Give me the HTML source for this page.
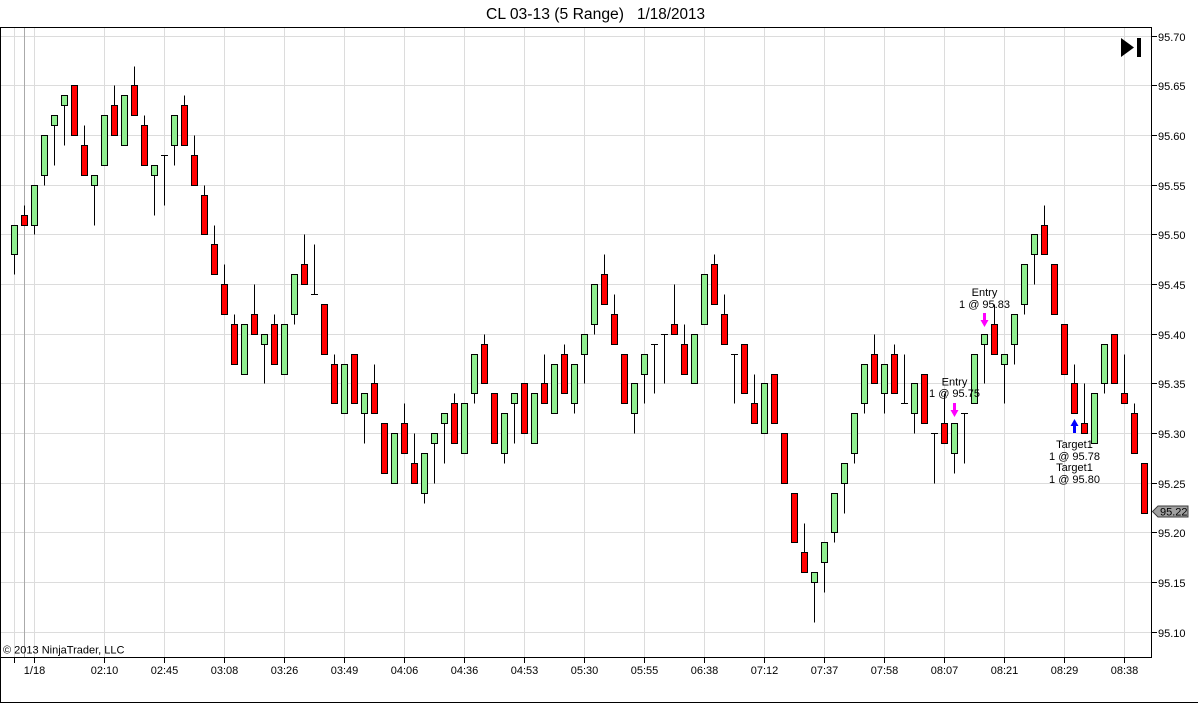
<!DOCTYPE html>
<html><head><meta charset="utf-8"><style>
html,body{margin:0;padding:0;background:#fff;width:1198px;height:703px;overflow:hidden}
svg{display:block}
text{font-family:"Liberation Sans",Arial,sans-serif;fill:#000}
.gl{stroke:#dcdcdc;stroke-width:1}
.ax{stroke:#000;stroke-width:1}
.w{stroke:#000;stroke-width:1}
.g{fill:#90ee90;stroke:#000;stroke-width:1}
.r{fill:#ff0000;stroke:#000;stroke-width:1}
.pl{font-size:11px}
.xl{font-size:11px;text-anchor:middle}
.an{font-size:11px;text-anchor:middle}
</style></head><body>
<svg width="1198" height="703" viewBox="0 0 1198 703" xmlns="http://www.w3.org/2000/svg">
<rect x="0" y="0" width="1198" height="703" fill="#fff"/>
<!-- title -->
<text x="486" y="19" font-size="15.5" textLength="138" lengthAdjust="spacingAndGlyphs">CL 03-13 (5 Range)</text>
<text x="637" y="19" font-size="15.5" textLength="68" lengthAdjust="spacingAndGlyphs">1/18/2013</text>
<!-- horizontal grid -->
<g class="gl">
<line x1="1" x2="1151" y1="36.5" y2="36.5"/>
<line x1="1" x2="1151" y1="85.5" y2="85.5"/>
<line x1="1" x2="1151" y1="135.5" y2="135.5"/>
<line x1="1" x2="1151" y1="185.5" y2="185.5"/>
<line x1="1" x2="1151" y1="234.5" y2="234.5"/>
<line x1="1" x2="1151" y1="284.5" y2="284.5"/>
<line x1="1" x2="1151" y1="334.5" y2="334.5"/>
<line x1="1" x2="1151" y1="383.5" y2="383.5"/>
<line x1="1" x2="1151" y1="433.5" y2="433.5"/>
<line x1="1" x2="1151" y1="483.5" y2="483.5"/>
<line x1="1" x2="1151" y1="532.5" y2="532.5"/>
<line x1="1" x2="1151" y1="582.5" y2="582.5"/>
<line x1="1" x2="1151" y1="632.5" y2="632.5"/>
<!-- vertical grid -->
<line x1="14.5" x2="14.5" y1="28" y2="657"/>
<line x1="34.5" x2="34.5" y1="28" y2="657"/>
<line x1="104.5" x2="104.5" y1="28" y2="657"/>
<line x1="164.5" x2="164.5" y1="28" y2="657"/>
<line x1="224.5" x2="224.5" y1="28" y2="657"/>
<line x1="284.5" x2="284.5" y1="28" y2="657"/>
<line x1="344.5" x2="344.5" y1="28" y2="657"/>
<line x1="404.5" x2="404.5" y1="28" y2="657"/>
<line x1="464.5" x2="464.5" y1="28" y2="657"/>
<line x1="524.5" x2="524.5" y1="28" y2="657"/>
<line x1="584.5" x2="584.5" y1="28" y2="657"/>
<line x1="644.5" x2="644.5" y1="28" y2="657"/>
<line x1="704.5" x2="704.5" y1="28" y2="657"/>
<line x1="764.5" x2="764.5" y1="28" y2="657"/>
<line x1="824.5" x2="824.5" y1="28" y2="657"/>
<line x1="884.5" x2="884.5" y1="28" y2="657"/>
<line x1="944.5" x2="944.5" y1="28" y2="657"/>
<line x1="1004.5" x2="1004.5" y1="28" y2="657"/>
<line x1="1064.5" x2="1064.5" y1="28" y2="657"/>
<line x1="1124.5" x2="1124.5" y1="28" y2="657"/>
</g>
<line x1="24.5" x2="24.5" y1="28" y2="657" stroke="#aaaaaa" stroke-width="1"/>

<!-- candles -->
<g>
<line class="w" x1="14.5" x2="14.5" y1="225.5" y2="274.5"/><rect class="g" x="11.5" y="225.5" width="6" height="29"/>
<line class="w" x1="24.5" x2="24.5" y1="205.5" y2="225.5"/><rect class="r" x="21.5" y="215.5" width="6" height="10"/>
<line class="w" x1="34.5" x2="34.5" y1="185.5" y2="234.5"/><rect class="g" x="31.5" y="185.5" width="6" height="40"/>
<line class="w" x1="44.5" x2="44.5" y1="135.5" y2="185.5"/><rect class="g" x="41.5" y="135.5" width="6" height="40"/>
<line class="w" x1="54.5" x2="54.5" y1="115.5" y2="165.5"/><rect class="g" x="51.5" y="115.5" width="6" height="10"/>
<line class="w" x1="64.5" x2="64.5" y1="95.5" y2="145.5"/><rect class="g" x="61.5" y="95.5" width="6" height="10"/>
<rect class="r" x="71.5" y="85.5" width="6" height="50"/>
<line class="w" x1="84.5" x2="84.5" y1="125.5" y2="175.5"/><rect class="r" x="81.5" y="145.5" width="6" height="30"/>
<line class="w" x1="94.5" x2="94.5" y1="175.5" y2="225.5"/><rect class="g" x="91.5" y="175.5" width="6" height="10"/>
<rect class="g" x="101.5" y="115.5" width="6" height="50"/>
<line class="w" x1="114.5" x2="114.5" y1="85.5" y2="135.5"/><rect class="r" x="111.5" y="105.5" width="6" height="30"/>
<rect class="g" x="121.5" y="95.5" width="6" height="50"/>
<line class="w" x1="134.5" x2="134.5" y1="66.5" y2="115.5"/><rect class="r" x="131.5" y="85.5" width="6" height="30"/>
<line class="w" x1="144.5" x2="144.5" y1="115.5" y2="165.5"/><rect class="r" x="141.5" y="125.5" width="6" height="40"/>
<line class="w" x1="154.5" x2="154.5" y1="165.5" y2="215.5"/><rect class="g" x="151.5" y="165.5" width="6" height="10"/>
<line class="w" x1="164.5" x2="164.5" y1="155.5" y2="205.5"/><line class="w" x1="161" x2="168" y1="155.5" y2="155.5"/>
<line class="w" x1="174.5" x2="174.5" y1="115.5" y2="165.5"/><rect class="g" x="171.5" y="115.5" width="6" height="30"/>
<line class="w" x1="184.5" x2="184.5" y1="95.5" y2="145.5"/><rect class="r" x="181.5" y="105.5" width="6" height="40"/>
<line class="w" x1="194.5" x2="194.5" y1="135.5" y2="185.5"/><rect class="r" x="191.5" y="155.5" width="6" height="30"/>
<line class="w" x1="204.5" x2="204.5" y1="185.5" y2="234.5"/><rect class="r" x="201.5" y="195.5" width="6" height="39"/>
<line class="w" x1="214.5" x2="214.5" y1="225.5" y2="274.5"/><rect class="r" x="211.5" y="244.5" width="6" height="30"/>
<line class="w" x1="224.5" x2="224.5" y1="264.5" y2="314.5"/><rect class="r" x="221.5" y="284.5" width="6" height="30"/>
<line class="w" x1="234.5" x2="234.5" y1="314.5" y2="364.5"/><rect class="r" x="231.5" y="324.5" width="6" height="40"/>
<rect class="g" x="241.5" y="324.5" width="6" height="50"/>
<line class="w" x1="254.5" x2="254.5" y1="284.5" y2="334.5"/><rect class="r" x="251.5" y="314.5" width="6" height="20"/>
<line class="w" x1="264.5" x2="264.5" y1="334.5" y2="383.5"/><rect class="g" x="261.5" y="334.5" width="6" height="10"/>
<line class="w" x1="274.5" x2="274.5" y1="314.5" y2="364.5"/><rect class="r" x="271.5" y="324.5" width="6" height="40"/>
<rect class="g" x="281.5" y="324.5" width="6" height="50"/>
<line class="w" x1="294.5" x2="294.5" y1="274.5" y2="324.5"/><rect class="g" x="291.5" y="274.5" width="6" height="40"/>
<line class="w" x1="304.5" x2="304.5" y1="234.5" y2="284.5"/><rect class="r" x="301.5" y="264.5" width="6" height="20"/>
<line class="w" x1="314.5" x2="314.5" y1="244.5" y2="294.5"/><line class="w" x1="311" x2="318" y1="294.5" y2="294.5"/>
<rect class="r" x="321.5" y="304.5" width="6" height="50"/>
<line class="w" x1="334.5" x2="334.5" y1="354.5" y2="403.5"/><rect class="r" x="331.5" y="364.5" width="6" height="39"/>
<rect class="g" x="341.5" y="364.5" width="6" height="49"/>
<rect class="r" x="351.5" y="354.5" width="6" height="49"/>
<line class="w" x1="364.5" x2="364.5" y1="393.5" y2="443.5"/><rect class="g" x="361.5" y="393.5" width="6" height="20"/>
<line class="w" x1="374.5" x2="374.5" y1="364.5" y2="413.5"/><rect class="r" x="371.5" y="383.5" width="6" height="30"/>
<rect class="r" x="381.5" y="423.5" width="6" height="50"/>
<rect class="g" x="391.5" y="433.5" width="6" height="50"/>
<line class="w" x1="404.5" x2="404.5" y1="403.5" y2="453.5"/><rect class="r" x="401.5" y="423.5" width="6" height="30"/>
<line class="w" x1="414.5" x2="414.5" y1="433.5" y2="483.5"/><rect class="r" x="411.5" y="463.5" width="6" height="20"/>
<line class="w" x1="424.5" x2="424.5" y1="453.5" y2="503.5"/><rect class="g" x="421.5" y="453.5" width="6" height="40"/>
<line class="w" x1="434.5" x2="434.5" y1="433.5" y2="483.5"/><rect class="g" x="431.5" y="433.5" width="6" height="10"/>
<line class="w" x1="444.5" x2="444.5" y1="413.5" y2="463.5"/><rect class="g" x="441.5" y="413.5" width="6" height="10"/>
<line class="w" x1="454.5" x2="454.5" y1="393.5" y2="443.5"/><rect class="r" x="451.5" y="403.5" width="6" height="40"/>
<rect class="g" x="461.5" y="403.5" width="6" height="50"/>
<line class="w" x1="474.5" x2="474.5" y1="354.5" y2="403.5"/><rect class="g" x="471.5" y="354.5" width="6" height="39"/>
<line class="w" x1="484.5" x2="484.5" y1="334.5" y2="383.5"/><rect class="r" x="481.5" y="344.5" width="6" height="39"/>
<rect class="r" x="491.5" y="393.5" width="6" height="50"/>
<line class="w" x1="504.5" x2="504.5" y1="413.5" y2="463.5"/><rect class="g" x="501.5" y="413.5" width="6" height="40"/>
<line class="w" x1="514.5" x2="514.5" y1="393.5" y2="443.5"/><rect class="g" x="511.5" y="393.5" width="6" height="10"/>
<rect class="r" x="521.5" y="383.5" width="6" height="50"/>
<rect class="g" x="531.5" y="393.5" width="6" height="50"/>
<line class="w" x1="544.5" x2="544.5" y1="354.5" y2="403.5"/><rect class="r" x="541.5" y="383.5" width="6" height="20"/>
<rect class="g" x="551.5" y="364.5" width="6" height="49"/>
<line class="w" x1="564.5" x2="564.5" y1="344.5" y2="393.5"/><rect class="r" x="561.5" y="354.5" width="6" height="39"/>
<line class="w" x1="574.5" x2="574.5" y1="364.5" y2="413.5"/><rect class="g" x="571.5" y="364.5" width="6" height="39"/>
<line class="w" x1="584.5" x2="584.5" y1="334.5" y2="383.5"/><rect class="g" x="581.5" y="334.5" width="6" height="20"/>
<line class="w" x1="594.5" x2="594.5" y1="284.5" y2="334.5"/><rect class="g" x="591.5" y="284.5" width="6" height="40"/>
<line class="w" x1="604.5" x2="604.5" y1="254.5" y2="304.5"/><rect class="r" x="601.5" y="274.5" width="6" height="30"/>
<line class="w" x1="614.5" x2="614.5" y1="294.5" y2="344.5"/><rect class="r" x="611.5" y="314.5" width="6" height="30"/>
<rect class="r" x="621.5" y="354.5" width="6" height="49"/>
<line class="w" x1="634.5" x2="634.5" y1="383.5" y2="433.5"/><rect class="g" x="631.5" y="383.5" width="6" height="30"/>
<line class="w" x1="644.5" x2="644.5" y1="354.5" y2="403.5"/><rect class="g" x="641.5" y="354.5" width="6" height="20"/>
<line class="w" x1="654.5" x2="654.5" y1="344.5" y2="393.5"/><line class="w" x1="651" x2="658" y1="344.5" y2="344.5"/>
<line class="w" x1="664.5" x2="664.5" y1="334.5" y2="383.5"/><line class="w" x1="661" x2="668" y1="334.5" y2="334.5"/>
<line class="w" x1="674.5" x2="674.5" y1="284.5" y2="334.5"/><rect class="r" x="671.5" y="324.5" width="6" height="10"/>
<line class="w" x1="684.5" x2="684.5" y1="324.5" y2="374.5"/><rect class="r" x="681.5" y="344.5" width="6" height="30"/>
<rect class="g" x="691.5" y="334.5" width="6" height="49"/>
<rect class="g" x="701.5" y="274.5" width="6" height="50"/>
<line class="w" x1="714.5" x2="714.5" y1="254.5" y2="304.5"/><rect class="r" x="711.5" y="264.5" width="6" height="40"/>
<line class="w" x1="724.5" x2="724.5" y1="294.5" y2="344.5"/><rect class="r" x="721.5" y="314.5" width="6" height="30"/>
<line class="w" x1="734.5" x2="734.5" y1="354.5" y2="403.5"/><line class="w" x1="731" x2="738" y1="354.5" y2="354.5"/>
<rect class="r" x="741.5" y="344.5" width="6" height="49"/>
<line class="w" x1="754.5" x2="754.5" y1="374.5" y2="423.5"/><rect class="r" x="751.5" y="403.5" width="6" height="20"/>
<rect class="g" x="761.5" y="383.5" width="6" height="50"/>
<rect class="r" x="771.5" y="374.5" width="6" height="49"/>
<rect class="r" x="781.5" y="433.5" width="6" height="50"/>
<rect class="r" x="791.5" y="493.5" width="6" height="49"/>
<line class="w" x1="804.5" x2="804.5" y1="523.5" y2="572.5"/><rect class="r" x="801.5" y="552.5" width="6" height="20"/>
<line class="w" x1="814.5" x2="814.5" y1="572.5" y2="622.5"/><rect class="g" x="811.5" y="572.5" width="6" height="10"/>
<line class="w" x1="824.5" x2="824.5" y1="542.5" y2="592.5"/><rect class="g" x="821.5" y="542.5" width="6" height="20"/>
<line class="w" x1="834.5" x2="834.5" y1="493.5" y2="542.5"/><rect class="g" x="831.5" y="493.5" width="6" height="39"/>
<line class="w" x1="844.5" x2="844.5" y1="463.5" y2="513.5"/><rect class="g" x="841.5" y="463.5" width="6" height="20"/>
<line class="w" x1="854.5" x2="854.5" y1="413.5" y2="463.5"/><rect class="g" x="851.5" y="413.5" width="6" height="40"/>
<line class="w" x1="864.5" x2="864.5" y1="364.5" y2="413.5"/><rect class="g" x="861.5" y="364.5" width="6" height="39"/>
<line class="w" x1="874.5" x2="874.5" y1="334.5" y2="383.5"/><rect class="r" x="871.5" y="354.5" width="6" height="29"/>
<line class="w" x1="884.5" x2="884.5" y1="364.5" y2="413.5"/><rect class="g" x="881.5" y="364.5" width="6" height="29"/>
<line class="w" x1="894.5" x2="894.5" y1="344.5" y2="393.5"/><rect class="r" x="891.5" y="354.5" width="6" height="39"/>
<line class="w" x1="904.5" x2="904.5" y1="354.5" y2="403.5"/><line class="w" x1="901" x2="908" y1="403.5" y2="403.5"/>
<line class="w" x1="914.5" x2="914.5" y1="383.5" y2="433.5"/><rect class="g" x="911.5" y="383.5" width="6" height="30"/>
<rect class="r" x="921.5" y="374.5" width="6" height="49"/>
<line class="w" x1="934.5" x2="934.5" y1="433.5" y2="483.5"/><line class="w" x1="931" x2="938" y1="433.5" y2="433.5"/>
<line class="w" x1="944.5" x2="944.5" y1="393.5" y2="443.5"/><rect class="r" x="941.5" y="423.5" width="6" height="20"/>
<line class="w" x1="954.5" x2="954.5" y1="423.5" y2="473.5"/><rect class="g" x="951.5" y="423.5" width="6" height="30"/>
<line class="w" x1="964.5" x2="964.5" y1="413.5" y2="463.5"/><line class="w" x1="961" x2="968" y1="413.5" y2="413.5"/>
<rect class="g" x="971.5" y="354.5" width="6" height="49"/>
<line class="w" x1="984.5" x2="984.5" y1="334.5" y2="383.5"/><rect class="g" x="981.5" y="334.5" width="6" height="10"/>
<line class="w" x1="994.5" x2="994.5" y1="304.5" y2="354.5"/><rect class="r" x="991.5" y="324.5" width="6" height="30"/>
<line class="w" x1="1004.5" x2="1004.5" y1="354.5" y2="403.5"/><rect class="g" x="1001.5" y="354.5" width="6" height="10"/>
<line class="w" x1="1014.5" x2="1014.5" y1="314.5" y2="364.5"/><rect class="g" x="1011.5" y="314.5" width="6" height="30"/>
<line class="w" x1="1024.5" x2="1024.5" y1="264.5" y2="314.5"/><rect class="g" x="1021.5" y="264.5" width="6" height="40"/>
<line class="w" x1="1034.5" x2="1034.5" y1="234.5" y2="284.5"/><rect class="g" x="1031.5" y="234.5" width="6" height="20"/>
<line class="w" x1="1044.5" x2="1044.5" y1="205.5" y2="254.5"/><rect class="r" x="1041.5" y="225.5" width="6" height="29"/>
<rect class="r" x="1051.5" y="264.5" width="6" height="50"/>
<rect class="r" x="1061.5" y="324.5" width="6" height="50"/>
<line class="w" x1="1074.5" x2="1074.5" y1="364.5" y2="413.5"/><rect class="r" x="1071.5" y="383.5" width="6" height="30"/>
<line class="w" x1="1084.5" x2="1084.5" y1="383.5" y2="433.5"/><rect class="r" x="1081.5" y="423.5" width="6" height="10"/>
<rect class="g" x="1091.5" y="393.5" width="6" height="50"/>
<line class="w" x1="1104.5" x2="1104.5" y1="344.5" y2="393.5"/><rect class="g" x="1101.5" y="344.5" width="6" height="39"/>
<rect class="r" x="1111.5" y="334.5" width="6" height="49"/>
<line class="w" x1="1124.5" x2="1124.5" y1="354.5" y2="403.5"/><rect class="r" x="1121.5" y="393.5" width="6" height="10"/>
<line class="w" x1="1134.5" x2="1134.5" y1="403.5" y2="453.5"/><rect class="r" x="1131.5" y="413.5" width="6" height="40"/>
<rect class="r" x="1141.5" y="463.5" width="6" height="50"/>
</g>

<!-- annotations -->
<text class="an" x="984.5" y="296">Entry</text>
<text class="an" x="984.5" y="308">1 @ 95.83</text>
<polygon points="983,313 986,313 986,320 988.5,320 984.5,327 980.5,320 983,320" fill="#ff00ff"/>
<text class="an" x="954.5" y="385.5">Entry</text>
<text class="an" x="954.5" y="397">1 @ 95.75</text>
<polygon points="953,403 956,403 956,410 958.5,410 954.5,417 950.5,410 953,410" fill="#ff00ff"/>
<polygon points="1074.5,419 1078.5,426 1076,426 1076,433 1073,433 1073,426 1070.5,426" fill="#0000ff"/>
<text class="an" x="1074.5" y="448">Target1</text>
<text class="an" x="1074.5" y="460">1 @ 95.78</text>
<text class="an" x="1074.5" y="471">Target1</text>
<text class="an" x="1074.5" y="483">1 @ 95.80</text>

<!-- play icon -->
<polygon points="1121,38 1121,57 1134,47.5" fill="#000"/>
<rect x="1137" y="38" width="4" height="19" fill="#000"/>

<!-- copyright -->
<text x="3" y="653.5" font-size="11">© 2013 NinjaTrader, LLC</text>

<!-- frame & axes -->
<g class="ax">
<line x1="0" x2="1151.5" y1="27.5" y2="27.5"/>
<line x1="0.5" x2="0.5" y1="27" y2="703"/>
<line x1="0" x2="1198" y1="702.5" y2="702.5"/>
<line x1="1151.5" x2="1151.5" y1="27" y2="658"/>
<line x1="0" x2="1151.5" y1="657.5" y2="657.5"/>
<!-- right ticks -->
<line x1="1151" x2="1157" y1="36.5" y2="36.5"/>
<line x1="1151" x2="1157" y1="85.5" y2="85.5"/>
<line x1="1151" x2="1157" y1="135.5" y2="135.5"/>
<line x1="1151" x2="1157" y1="185.5" y2="185.5"/>
<line x1="1151" x2="1157" y1="234.5" y2="234.5"/>
<line x1="1151" x2="1157" y1="284.5" y2="284.5"/>
<line x1="1151" x2="1157" y1="334.5" y2="334.5"/>
<line x1="1151" x2="1157" y1="383.5" y2="383.5"/>
<line x1="1151" x2="1157" y1="433.5" y2="433.5"/>
<line x1="1151" x2="1157" y1="483.5" y2="483.5"/>
<line x1="1151" x2="1157" y1="532.5" y2="532.5"/>
<line x1="1151" x2="1157" y1="582.5" y2="582.5"/>
<line x1="1151" x2="1157" y1="632.5" y2="632.5"/>
<!-- bottom ticks -->
<line x1="14.5" x2="14.5" y1="657" y2="663"/>
<line x1="34.5" x2="34.5" y1="657" y2="663"/>
<line x1="104.5" x2="104.5" y1="657" y2="663"/>
<line x1="164.5" x2="164.5" y1="657" y2="663"/>
<line x1="224.5" x2="224.5" y1="657" y2="663"/>
<line x1="284.5" x2="284.5" y1="657" y2="663"/>
<line x1="344.5" x2="344.5" y1="657" y2="663"/>
<line x1="404.5" x2="404.5" y1="657" y2="663"/>
<line x1="464.5" x2="464.5" y1="657" y2="663"/>
<line x1="524.5" x2="524.5" y1="657" y2="663"/>
<line x1="584.5" x2="584.5" y1="657" y2="663"/>
<line x1="644.5" x2="644.5" y1="657" y2="663"/>
<line x1="704.5" x2="704.5" y1="657" y2="663"/>
<line x1="764.5" x2="764.5" y1="657" y2="663"/>
<line x1="824.5" x2="824.5" y1="657" y2="663"/>
<line x1="884.5" x2="884.5" y1="657" y2="663"/>
<line x1="944.5" x2="944.5" y1="657" y2="663"/>
<line x1="1004.5" x2="1004.5" y1="657" y2="663"/>
<line x1="1064.5" x2="1064.5" y1="657" y2="663"/>
<line x1="1124.5" x2="1124.5" y1="657" y2="663"/>
</g>

<!-- price labels -->
<g class="pl">
<text x="1158" y="41">95.70</text>
<text x="1158" y="90">95.65</text>
<text x="1158" y="140">95.60</text>
<text x="1158" y="190">95.55</text>
<text x="1158" y="239">95.50</text>
<text x="1158" y="289">95.45</text>
<text x="1158" y="339">95.40</text>
<text x="1158" y="388">95.35</text>
<text x="1158" y="438">95.30</text>
<text x="1158" y="488">95.25</text>
<text x="1158" y="537">95.20</text>
<text x="1158" y="587">95.15</text>
<text x="1158" y="637">95.10</text>
</g>

<!-- last price marker -->
<polygon points="1152.5,511.5 1158,506 1188,506 1188,517 1158,517" fill="#a0a0a0" stroke="#3c3c3c" stroke-width="1"/>
<text x="1160" y="515.5" font-size="11">95.22</text>

<!-- x labels -->
<g class="xl">
<text x="34.5" y="674">1/18</text>
<text x="104.5" y="674">02:10</text>
<text x="164.5" y="674">02:45</text>
<text x="224.5" y="674">03:08</text>
<text x="284.5" y="674">03:26</text>
<text x="344.5" y="674">03:49</text>
<text x="404.5" y="674">04:06</text>
<text x="464.5" y="674">04:36</text>
<text x="524.5" y="674">04:53</text>
<text x="584.5" y="674">05:30</text>
<text x="644.5" y="674">05:55</text>
<text x="704.5" y="674">06:38</text>
<text x="764.5" y="674">07:12</text>
<text x="824.5" y="674">07:37</text>
<text x="884.5" y="674">07:58</text>
<text x="944.5" y="674">08:07</text>
<text x="1004.5" y="674">08:21</text>
<text x="1064.5" y="674">08:29</text>
<text x="1124.5" y="674">08:38</text>
</g>
</svg>
</body></html>
